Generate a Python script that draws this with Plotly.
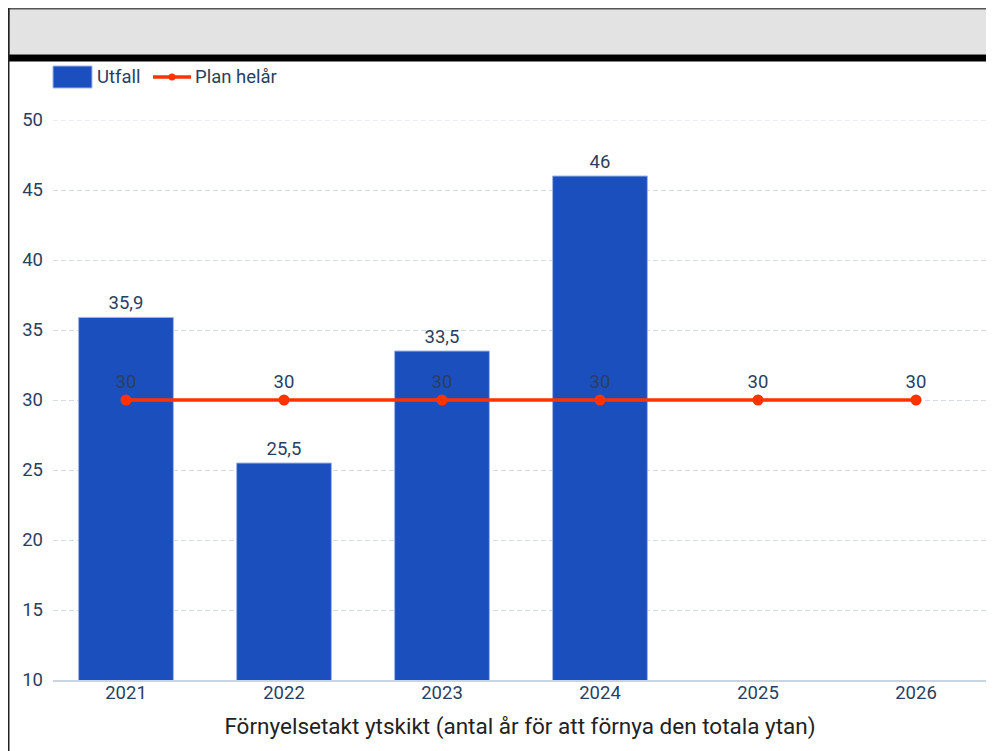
import plotly.graph_objects as go

years = ["2021", "2022", "2023", "2024", "2025", "2026"]
utfall = [35.9, 25.5, 33.5, 46, None, None]
plan = [30, 30, 30, 30, 30, 30]

BAR = "#1c4fbe"
LINE = "#ff3300"
TXT = "#2a3f5f"
GRID = "#d5dbe3"
FS = 18.5

W, H = 986, 743
L, R, T, B = 45, 7, 112, 71
pw, ph = W - L - R, H - T - B

def px(x):
    return (x - L) / pw

def py(y):
    return (H - B - y) / ph

fig = go.Figure()
fig.add_trace(go.Bar(
    x=years, y=utfall, name="Utfall",
    marker=dict(color=BAR, line=dict(color="#9fb6e8", width=1)),
    width=0.6,
    text=[("" if v is None else (f"{v:g}".replace(".", ","))) for v in utfall],
    textposition="outside", cliponaxis=False,
    textfont=dict(size=FS, color=TXT, family="Roboto"),
    showlegend=False,
))
fig.add_trace(go.Scatter(
    x=years, y=plan, name="Plan helår", mode="lines+markers+text",
    line=dict(color=LINE, width=3.5),
    marker=dict(color=LINE, size=11),
    text=[str(v) for v in plan], textposition="top center",
    textfont=dict(size=FS, color=TXT, family="Roboto"),
    showlegend=False,
))

shapes = [
    # header band
    dict(type="rect", xref="paper", yref="paper", x0=px(0.75), x1=px(1000), y0=py(47), y1=py(0.75),
         fillcolor="#e3e3e3", line=dict(color="#555555", width=1.5), layer="below"),
    dict(type="rect", xref="paper", yref="paper", x0=px(0), x1=px(1000), y0=py(53.5), y1=py(47),
         fillcolor="#000000", line=dict(width=0)),
    # left border
    dict(type="line", xref="paper", yref="paper", x0=px(0.75), x1=px(0.75), y0=py(0), y1=py(760),
         line=dict(color="#222222", width=1.5)),
    # top gridline at 50
    dict(type="line", xref="paper", yref="y", x0=0, x1=1, y0=50, y1=50,
         line=dict(color=GRID, width=1, dash="5px,3px"), layer="below"),
    # legend items
    dict(type="rect", xref="paper", yref="paper", x0=px(45), x1=px(84), y0=py(80), y1=py(58),
         fillcolor=BAR, line=dict(color="#9fb6e8", width=1)),
    dict(type="line", xref="paper", yref="paper", x0=px(145), x1=px(183), y0=py(69), y1=py(69),
         line=dict(color=LINE, width=3.5)),
    dict(type="circle", xref="paper", yref="paper", x0=px(160.5), x1=px(167.5), y0=py(72.5), y1=py(65.5),
         fillcolor=LINE, line=dict(width=0)),
]
annotations = [
    dict(text="Utfall", xref="paper", yref="paper", x=px(87), y=py(69), xanchor="left", yanchor="middle",
         showarrow=False, font=dict(size=FS, color=TXT, family="Roboto")),
    dict(text="Plan helår", xref="paper", yref="paper", x=px(185), y=py(69), xanchor="left", yanchor="middle",
         showarrow=False, font=dict(size=FS, color=TXT, family="Roboto")),
]

fig.update_layout(
    width=W, height=H,
    margin=dict(l=L, r=R, t=T, b=B),
    paper_bgcolor="white", plot_bgcolor="white",
    separators=", ",
    font=dict(family="Roboto", size=FS, color=TXT),
    shapes=shapes, annotations=annotations,
    showlegend=False,
    xaxis=dict(
        type="category", range=[(L - 118) / 158, 5 + (W - R - 908) / 158],
        showgrid=False, showline=True, linecolor="#c8d4e3", linewidth=1.5,
        ticks="", tickfont=dict(size=FS, color=TXT), ticklabelstandoff=-5,
        title=dict(text="Förnyelsetakt ytskikt (antal år för att förnya den totala ytan)",
                   font=dict(size=22.5, color="#222222"), standoff=15),
    ),
    yaxis=dict(
        range=[10, 50], tick0=10, dtick=5,
        showgrid=True, gridcolor=GRID, griddash="5px,3px", gridwidth=1,
        zeroline=False, showline=False, ticks="", ticklabelstandoff=9,
        tickfont=dict(size=FS, color=TXT),
    ),
)

fig.write_html("out.html")
